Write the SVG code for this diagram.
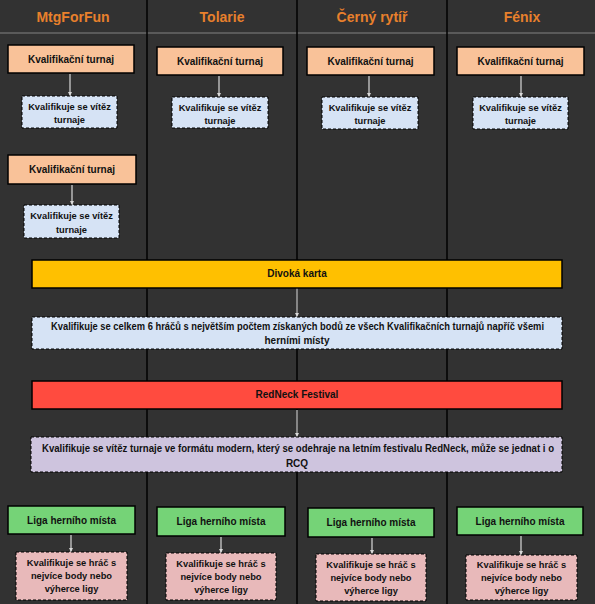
<svg xmlns="http://www.w3.org/2000/svg" width="595" height="604" viewBox="0 0 595 604">
<defs>
<marker id="ah" viewBox="0 0 10 10" refX="10" refY="5" markerWidth="4" markerHeight="4" orient="auto" markerUnits="userSpaceOnUse">
<path d="M0,0 L10,5 L0,10 z" fill="#d9d9d9"/>
</marker>
<style>
.bg{fill:#323232}
.div{stroke:#000;stroke-width:1.5}
.hline{stroke:#5a5a5a;stroke-width:2}
.hdr{font-family:"Liberation Sans",Arial,sans-serif;font-weight:bold;font-size:14px;fill:#e8802c;text-anchor:middle}
.t{font-family:"Liberation Sans",Arial,sans-serif;font-weight:bold;font-size:10px;fill:#111;text-anchor:middle}
.s{font-family:"Liberation Sans",Arial,sans-serif;font-weight:bold;font-size:9.3px;fill:#111;text-anchor:middle}
.box{stroke:#000;stroke-width:1.5}
.q{stroke:#000;stroke-width:1;stroke-dasharray:3 2}
.peach{fill:#f9c299}
.blue{fill:#d6e3f5}
.green{fill:#75d377}
.pink{fill:#e8b9ba}
.yellow{fill:#ffc000}
.red{fill:#ff4b3f}
.purple{fill:#cec4de}
.arr{stroke:#d9d9d9;stroke-width:1.2;fill:none;marker-end:url(#ah)}
</style>
</defs>
<rect class="bg" x="0" y="0" width="595" height="604"/>
<g id="lanes">
<line class="hline" x1="0" y1="33" x2="595" y2="33"/>
<line class="div" x1="147" y1="0" x2="147" y2="604"/>
<line class="div" x1="297" y1="0" x2="297" y2="604"/>
<line class="div" x1="447" y1="0" x2="447" y2="604"/>
<text class="hdr" x="73" y="22">MtgForFun</text>
<text class="hdr" x="222" y="22">Tolarie</text>
<text class="hdr" x="372" y="22">Černý rytíř</text>
<text class="hdr" x="522" y="22">Fénix</text>
</g>
<g id="connectors">
<line class="arr" x1="70" y1="74" x2="70" y2="96"/>
<line class="arr" x1="219" y1="76" x2="219" y2="97"/>
<line class="arr" x1="369" y1="76" x2="369" y2="97"/>
<line class="arr" x1="521" y1="76" x2="521" y2="97"/>
<line class="arr" x1="72" y1="185" x2="72" y2="205"/>
<line class="arr" x1="297" y1="288" x2="297" y2="317"/>
<line class="arr" x1="297" y1="410" x2="297" y2="437"/>
<line class="arr" x1="71" y1="535" x2="71" y2="552"/>
<line class="arr" x1="221" y1="537" x2="221" y2="553"/>
<line class="arr" x1="372" y1="538" x2="372" y2="554"/>
<line class="arr" x1="521" y1="536" x2="521" y2="555"/>
</g>
<g id="kt1"><rect class="box peach" x="8" y="45" width="126" height="28"/><text class="t" x="71" y="63">Kvalifikační turnaj</text></g>
<g id="q1"><rect class="q blue" x="22" y="96" width="95" height="32"/><text class="s" x="69.5" y="110">Kvalifikuje se vítěz</text><text class="s" x="69.5" y="123">turnaje</text></g>
<g id="kt2"><rect class="box peach" x="157" y="47" width="126" height="28"/><text class="t" x="220" y="65">Kvalifikační turnaj</text></g>
<g id="q2"><rect class="q blue" x="172" y="97" width="96" height="31"/><text class="s" x="220" y="111">Kvalifikuje se vítěz</text><text class="s" x="220" y="124">turnaje</text></g>
<g id="kt3"><rect class="box peach" x="307" y="47" width="127" height="28"/><text class="t" x="370.5" y="65">Kvalifikační turnaj</text></g>
<g id="q3"><rect class="q blue" x="322" y="97" width="96" height="32"/><text class="s" x="370" y="111">Kvalifikuje se vítěz</text><text class="s" x="370" y="124">turnaje</text></g>
<g id="kt4"><rect class="box peach" x="457" y="47" width="127" height="28"/><text class="t" x="520.5" y="65">Kvalifikační turnaj</text></g>
<g id="q4"><rect class="q blue" x="473" y="97" width="95" height="32"/><text class="s" x="520.5" y="111">Kvalifikuje se vítěz</text><text class="s" x="520.5" y="124">turnaje</text></g>
<g id="kt5"><rect class="box peach" x="8" y="155" width="128" height="29"/><text class="t" x="72" y="173">Kvalifikační turnaj</text></g>
<g id="q5"><rect class="q blue" x="24" y="205" width="95" height="33"/><text class="s" x="71.5" y="219">Kvalifikuje se vítěz</text><text class="s" x="71.5" y="233">turnaje</text></g>
<g id="wild"><rect class="box yellow" x="32" y="260" width="530" height="28"/><text class="t" x="297" y="277">Divoká karta</text></g>
<g id="wildq"><rect class="q blue" x="32" y="317" width="530" height="32"/><text class="t" x="297.5" y="330" textLength="493" lengthAdjust="spacingAndGlyphs">Kvalifikuje se celkem 6 hráčů s největším počtem získaných bodů ze všech Kvalifikačních turnajů napříč všemi</text><text class="t" x="297" y="344">herními místy</text></g>
<g id="red"><rect class="box red" x="32" y="381" width="530" height="28"/><text class="t" x="297" y="398">RedNeck Festival</text></g>
<g id="redq"><rect class="q purple" x="31" y="437" width="531" height="35"/><text class="t" x="298" y="452" textLength="512" lengthAdjust="spacingAndGlyphs">Kvalifikuje se vítěz turnaje ve formátu modern, který se odehraje na letním festivalu RedNeck, může se jednat i o</text><text class="t" x="297" y="467">RCQ</text></g>
<g id="liga1"><rect class="box green" x="8" y="506" width="127" height="28"/><text class="t" x="71.5" y="524">Liga herního místa</text></g>
<g id="p1"><rect class="q pink" x="16" y="552" width="111" height="48"/><text class="s" x="71.5" y="566">Kvalifikuje se hráč s</text><text class="s" x="71.5" y="579">nejvíce body nebo</text><text class="s" x="71.5" y="592">výherce ligy</text></g>
<g id="liga2"><rect class="box green" x="157" y="507" width="128" height="29"/><text class="t" x="221" y="525">Liga herního místa</text></g>
<g id="p2"><rect class="q pink" x="166" y="553" width="110" height="47"/><text class="s" x="221" y="567">Kvalifikuje se hráč s</text><text class="s" x="221" y="580">nejvíce body nebo</text><text class="s" x="221" y="593">výherce ligy</text></g>
<g id="liga3"><rect class="box green" x="308" y="508" width="126" height="29"/><text class="t" x="371" y="526">Liga herního místa</text></g>
<g id="p3"><rect class="q pink" x="316" y="554" width="110" height="47"/><text class="s" x="371" y="568">Kvalifikuje se hráč s</text><text class="s" x="371" y="581">nejvíce body nebo</text><text class="s" x="371" y="594">výherce ligy</text></g>
<g id="liga4"><rect class="box green" x="457" y="507" width="126" height="28"/><text class="t" x="520" y="525">Liga herního místa</text></g>
<g id="p4"><rect class="q pink" x="466" y="555" width="111" height="45"/><text class="s" x="521.5" y="568">Kvalifikuje se hráč s</text><text class="s" x="521.5" y="581">nejvíce body nebo</text><text class="s" x="521.5" y="594">výherce ligy</text></g>
</svg>
